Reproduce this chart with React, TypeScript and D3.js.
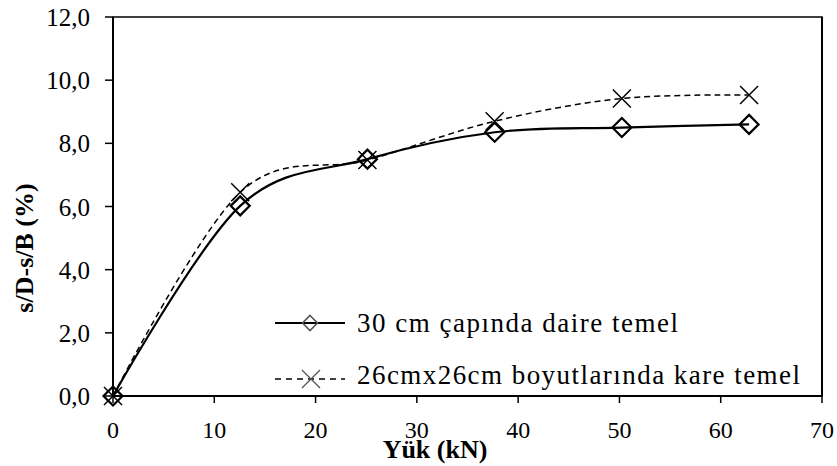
import React from "react";
import * as d3 from "d3";

// load (kN) and s/D - s/B (%)
const loads = [0, 12.56, 25.12, 37.68, 50.24, 62.8];
const daireValues = [0, 6.02, 7.5, 8.35, 8.5, 8.6];
const kareValues = [0, 6.45, 7.47, 8.7, 9.42, 9.53];
const seriesNames = ["30 cm çapında daire temel", "26cmx26cm boyutlarında kare temel"];
const xTicks = [0, 10, 20, 30, 40, 50, 60, 70];
const yTicks = [0, 2, 4, 6, 8, 10, 12];

const W = 837;
const H = 466;
const margin = { top: 17, right: 15, bottom: 70, left: 113 };
const font = `"Liberation Serif"`;

const x = d3.scaleLinear().domain([0, 70]).range([margin.left, W - margin.right]);
const y = d3.scaleLinear().domain([0, 12]).range([H - margin.bottom, margin.top]);

const line = d3
  .line<[number, number]>()
  .x(d => x(d[0]))
  .y(d => y(d[1]))
  .curve(d3.curveCardinal.tension(0));

const fmt = (v: number) => v.toFixed(1).replace(".", ",");

const Diamond = ({ cx, cy, r, stroke, sw }: any) => (
  <path
    d={`M${cx},${cy - r}L${cx + r},${cy}L${cx},${cy + r}L${cx - r},${cy}Z`}
    fill="none"
    stroke={stroke}
    strokeWidth={sw}
  />
);

const Cross = ({ cx, cy, r, stroke, sw }: any) => (
  <path
    d={`M${cx - r},${cy - r}L${cx + r},${cy + r}M${cx - r},${cy + r}L${cx + r},${cy - r}`}
    fill="none"
    stroke={stroke}
    strokeWidth={sw}
  />
);

const T = ({ children, ...rest }: any) => (
  <text {...rest} style={{ fontFamily: font }}>
    {children}
  </text>
);

export default function App() {
  const daire = loads.map((l, i) => [l, daireValues[i]] as [number, number]);
  const kare = loads.map((l, i) => [l, kareValues[i]] as [number, number]);
  const x0 = x(0);
  const x1 = x(70);
  const y0 = y(0);
  const y1 = y(12);

  return (
    <svg width={W} height={H} style={{ position: "absolute", left: 0, top: 0, background: "#fff" }}>
      {/* frame */}
      <rect x={x0} y={y1} width={x1 - x0} height={y0 - y1} fill="none" stroke="#000" strokeWidth={1.5} />
      <line x1={x0} x2={x0} y1={y1} y2={y0} stroke="#000" strokeWidth={2} />
      <line x1={x0} x2={x1} y1={y0} y2={y0} stroke="#000" strokeWidth={2} />
      <line x1={x1} x2={x1} y1={y1} y2={y0} stroke="#000" strokeWidth={2} />

      {/* y ticks */}
      {yTicks.map(t => (
        <g key={"y" + t}>
          <line x1={x0 - 8} x2={x0} y1={y(t)} y2={y(t)} stroke="#000" strokeWidth={1.5} />
          <T x={x0 - 23} y={y(t) + 9} textAnchor="end" fontSize={25}>
            {fmt(t)}
          </T>
        </g>
      ))}

      {/* x ticks */}
      {xTicks.map(t => (
        <g key={"x" + t}>
          <line x1={x(t)} x2={x(t)} y1={y0} y2={y0 + 7} stroke="#000" strokeWidth={1.5} />
          <T x={x(t)} y={438} textAnchor="middle" fontSize={24}>
            {t}
          </T>
        </g>
      ))}

      {/* axis titles */}
      <T x={435} y={458} textAnchor="middle" fontSize={26} fontWeight="bold">
        Yük (kN)
      </T>
      <T transform={`translate(33,${248}) rotate(-90)`} textAnchor="middle" fontSize={26} fontWeight="bold">
        s/D-s/B (%)
      </T>

      {/* series */}
      <path d={line(kare) || ""} fill="none" stroke="#000" strokeWidth={1.5} strokeDasharray="6,4" />
      <path d={line(daire) || ""} fill="none" stroke="#000" strokeWidth={2.2} />
      {daire.map((d, i) => (
        <Diamond key={"d" + i} cx={x(d[0])} cy={y(d[1])} r={9.5} stroke="#000" sw={2.2} />
      ))}
      {kare.map((d, i) => (
        <Cross key={"c" + i} cx={x(d[0])} cy={y(d[1])} r={9} stroke="#000" sw={1.5} />
      ))}

      {/* legend */}
      <g>
        <line x1={275} x2={345} y1={323} y2={323} stroke="#000" strokeWidth={1.8} />
        <Diamond cx={310} cy={323} r={7.5} stroke="#555" sw={1.6} />
        <T x={357} y={332} fontSize={27} textLength={321} lengthAdjust="spacing">
          {seriesNames[0]}
        </T>
        <line x1={275} x2={345} y1={379} y2={379} stroke="#000" strokeWidth={1.3} strokeDasharray="6,5" />
        <Cross cx={311} cy={379} r={9} stroke="#555" sw={1.3} />
        <T x={357} y={384} fontSize={27} textLength={443} lengthAdjust="spacing">
          {seriesNames[1]}
        </T>
      </g>
    </svg>
  );
}
